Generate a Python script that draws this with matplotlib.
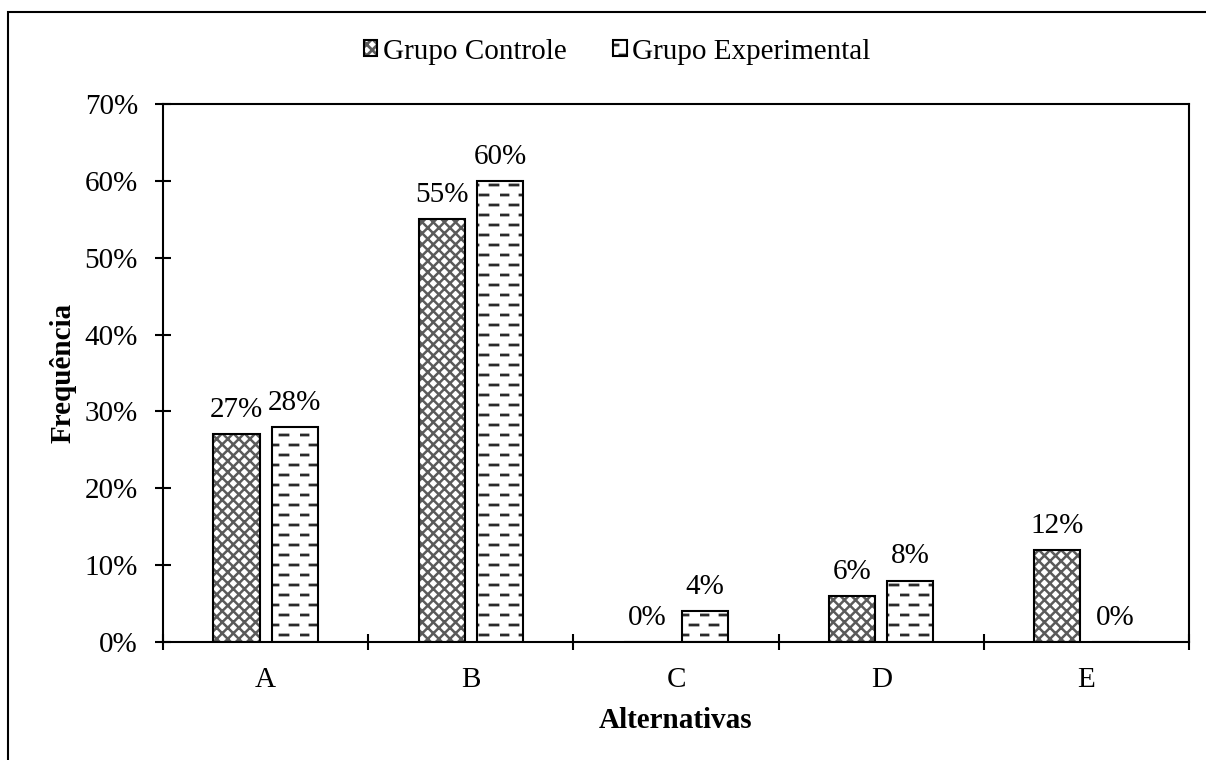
import numpy as np
import matplotlib
matplotlib.use("Agg")
import matplotlib.pyplot as plt
import matplotlib.colors as mcolors
import matplotlib.hatch as mhatch
from matplotlib.path import Path
from matplotlib.patches import Rectangle
from matplotlib.ticker import FuncFormatter, FixedLocator

# data
categories = ["A", "B", "C", "D", "E"]
controle = [27, 55, 0, 6, 12]
experimental = [28, 60, 4, 8, 0]
series_names = ["Grupo Controle", "Grupo Experimental"]


class DashedHorizontalHatch(mhatch.HatchPatternBase):
    """staggered short horizontal dashes, used in place of the '-' hatch"""
    rows = 10
    dashes = 5

    def __init__(self, hatch, density):
        self.num_rows = hatch.count('-') * self.rows
        self.num_vertices = self.num_rows * self.dashes * 2

    def set_vertices_and_codes(self, vertices, codes):
        ys = (np.arange(self.num_rows) + 0.5) / self.num_rows
        k = self.dashes
        i = 0
        for r, y in enumerate(ys):
            shift = 0.5 / k if r % 2 else 0.0
            for x0 in np.arange(k) / k + shift:
                vertices[i] = (x0, y)
                vertices[i + 1] = (x0 + 0.4 / k, y)
                codes[i] = Path.MOVETO
                codes[i + 1] = Path.LINETO
                i += 2


mhatch._hatch_types = [DashedHorizontalHatch if t is mhatch.HorizontalHatch else t
                       for t in mhatch._hatch_types]

plt.rcParams['font.family'] = ['Liberation Serif', 'DejaVu Serif']
FS = 21

fig = plt.figure(figsize=(12.06, 7.6), dpi=100)
W, H = 1206, 760
ax = fig.add_axes([163 / W, 1 - 642 / H, (1189 - 163) / W, (642 - 104) / H])

# outer frame (runs off the right/bottom edge like the source)
fig.patches.append(Rectangle((8 / W, -0.1), 1.2, 1.1 - 12 / H, transform=fig.transFigure,
                             fill=False, edgecolor='black', linewidth=1.5, zorder=0))

x = np.arange(len(categories))
off = 0.142
width = 0.225
plt.rcParams['hatch.linewidth'] = 1.8
b1 = ax.bar(x - off, controle, width, facecolor='white', edgecolor='black',
            hatch='xxx', linewidth=1.5, label=series_names[0])
plt.rcParams['hatch.linewidth'] = 2.0
b2 = ax.bar(x + off, experimental, width, facecolor='white', edgecolor='black',
            hatch='-', linewidth=1.5, label=series_names[1])

# lighter hatch lines than the outline
for rect in b1:
    rect._hatch_color = mcolors.to_rgba('#5a5a5a')
for rect in b2:
    rect._hatch_color = mcolors.to_rgba('#2a2a2a')

for bars, vals in ((b1, controle), (b2, experimental)):
    for rect, v in zip(bars, vals):
        ax.annotate(f"{v}%", (rect.get_x() + rect.get_width() / 2, v),
                    xytext=(0, 8), textcoords='offset points',
                    ha='center', va='bottom', fontsize=FS)

ax.set_xlim(-0.5, len(categories) - 0.5)
ax.set_ylim(0, 70)
ax.yaxis.set_major_locator(FixedLocator(np.arange(0, 71, 10)))
ax.yaxis.set_major_formatter(FuncFormatter(lambda v, p: f"{v:.0f}%"))
ax.set_xticks(x)
ax.set_xticklabels(categories)
ax.xaxis.set_minor_locator(FixedLocator(np.arange(-0.5, len(categories), 1.0)))
ax.tick_params(axis='x', which='major', length=0, pad=18, labelsize=FS)
ax.tick_params(axis='x', which='minor', direction='inout', length=12, width=1.5)
ax.tick_params(axis='y', direction='inout', length=12, width=1.5, pad=12, labelsize=FS)

for s in ax.spines.values():
    s.set_linewidth(1.5)

ax.set_ylabel("Frequência", fontsize=FS, fontweight='bold', labelpad=6)
ax.set_xlabel("Alternativas", fontsize=FS, fontweight='bold', labelpad=10)

leg = fig.legend(handles=[b1, b2], loc='center', bbox_to_anchor=(0.512, 0.932), ncol=2,
                 frameon=False, fontsize=FS, handlelength=0.45, handleheight=0.45,
                 handletextpad=0.2, columnspacing=1.6)
for h, c in zip(leg.legend_handles, ('#5a5a5a', '#2a2a2a')):
    h._hatch_color = mcolors.to_rgba(c)

fig.savefig("out.png", dpi=100)
